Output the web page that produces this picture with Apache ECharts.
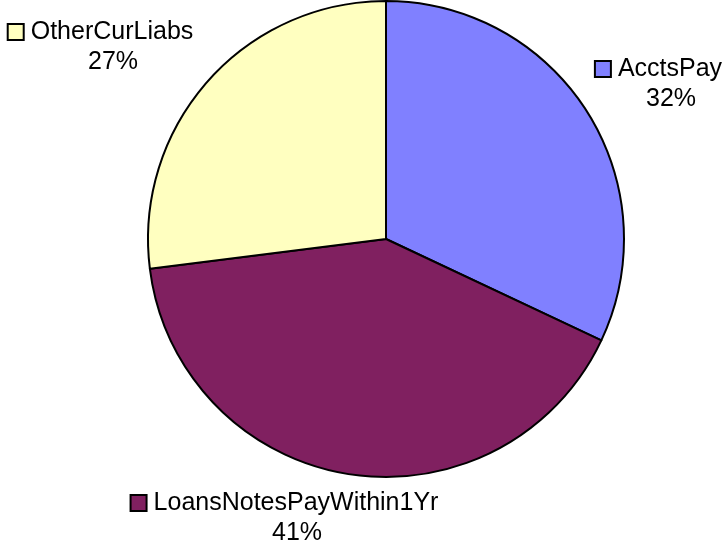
<!DOCTYPE html>
<html>
<head>
<meta charset="utf-8">
<style>
  html, body { margin: 0; padding: 0; background: #fff; }
  #chart { width: 726px; height: 547px; }
</style>
<script src="https://cdn.jsdelivr.net/npm/echarts@6/dist/echarts.min.js"></script>
</head>
<body>
<div id="chart"></div>
<script>
// slice names and shares (percent of current liabilities)
var categories = ['AcctsPay', 'LoansNotesPayWithin1Yr', 'OtherCurLiabs'];
var values = [32, 41, 27];
var colors = ['#8080ff', '#802060', '#ffffc0'];

// where each label block sits (centre of the two lines)
var labelSpots = [[659, 84], [285, 518], [101, 47]];

var chart = echarts.init(document.getElementById('chart'), null, { renderer: 'canvas' });

var richStyles = {
  gap: { width: 8, align: 'center' },
  pad: { width: 24, align: 'center' },
  txt: { fontSize: 25, color: '#000', fontFamily: 'Liberation Sans, Arial, sans-serif', align: 'center', lineHeight: 30 }
};
colors.forEach(function (c, i) {
  richStyles['box' + i] = {
    width: 14, height: 14, backgroundColor: c,
    borderColor: '#000', borderWidth: 2, align: 'center'
  };
});

chart.setOption({
  backgroundColor: '#fff',
  animation: false,
  series: [{
    type: 'pie',
    center: [386, 239],
    radius: 238,
    startAngle: 90,
    clockwise: true,
    data: categories.map(function (name, i) {
      return { name: name, value: values[i], itemStyle: { color: colors[i] } };
    }),
    itemStyle: { borderColor: '#000', borderWidth: 2 },
    emphasis: { disabled: true },
    labelLine: { show: false },
    label: {
      show: true,
      position: 'inside',
      overflow: 'none',
      align: 'center',
      fontSize: 25,
      color: '#000',
      fontFamily: 'Liberation Sans, Arial, sans-serif',
      lineHeight: 30,
      formatter: function (p) {
        return '{box' + p.dataIndex + '|}{gap|}{txt|' + p.name + '}\n{pad|}{txt|' + Math.round(p.percent) + '%}';
      },
      rich: richStyles
    },
    labelLayout: function (params) {
      var spot = labelSpots[params.dataIndex];
      return { x: spot[0], y: spot[1], align: 'center', verticalAlign: 'middle' };
    }
  }]
});
</script>
</body>
</html>
